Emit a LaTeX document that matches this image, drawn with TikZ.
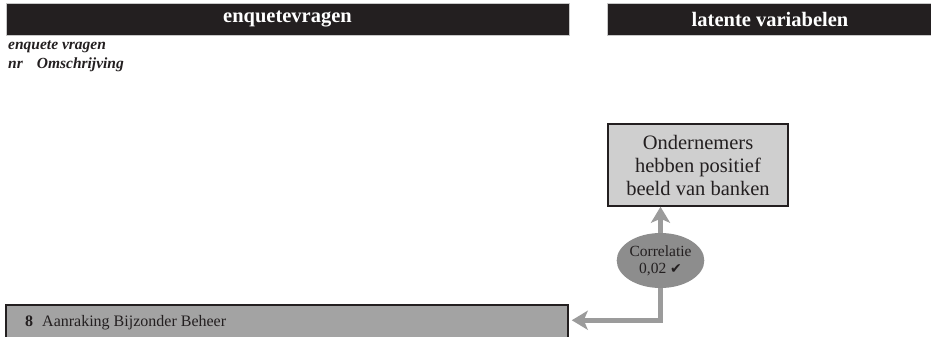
\documentclass[tikz,border=0pt]{standalone}
\usepackage{fontspec}
\setmainfont{Liberation Serif}
\newfontfamily\symfont{DejaVu Sans}
\usetikzlibrary{arrows.meta,shapes.geometric,calc}
\definecolor{hdr}{HTML}{231F20}
\definecolor{hdrline}{HTML}{C8C8C8}
\definecolor{arrowgray}{HTML}{9B9B9B}
\definecolor{latfill}{HTML}{CFCFCF}
\definecolor{botfill}{HTML}{A3A3A3}
\definecolor{ellfill}{HTML}{8D8D8D}
\tikzset{
  hdrbox/.style={fill=hdr, draw=hdrline, line width=0.8pt, text=white, font=\fontsize{20.5}{22}\selectfont\bfseries, inner sep=0pt},
  subtxt/.style={anchor=base west, inner sep=0pt, font=\fontsize{15.5}{17}\selectfont\bfseries\itshape, text=hdr},
  latbox/.style={fill=latfill, draw=hdr, line width=1.5pt, align=center, text=hdr, font=\fontsize{20.5}{23}\selectfont, inner sep=0pt},
  itembox/.style={fill=botfill, draw=hdr, line width=1.5pt, inner sep=0pt},
  itemtxt/.style={anchor=base west, inner sep=0pt, text=hdr, font=\fontsize{16}{18}\selectfont},
  corr/.style={ellipse, fill=ellfill, align=center, text=hdr, font=\fontsize{15.5}{17}\selectfont, inner sep=0pt},
  arr/.style={draw=arrowgray, line width=4.5pt, -{Stealth[length=16pt,width=19pt,inset=4pt]}},
}
\begin{document}
\begin{tikzpicture}[x=1pt,y=-1pt]
\useasboundingbox (0,0) rectangle (931,337);
\node[hdrbox, minimum width=563pt, minimum height=32pt] (h1) at (287.5,19) {enquetevragen};
\node[hdrbox, minimum width=326pt, minimum height=32pt] (h2) at (770,19) {latente variabelen};
\node[subtxt] (s1) at (8,50) {enquete vragen};
\node[subtxt] (s2) at (8,69) {nr\hspace{14pt}Omschrijving};
\node[latbox, minimum width=180pt, minimum height=82pt] (lat) at (698,165) {Ondernemers\\hebben positief\\beeld van banken};
\node[corr, minimum width=80pt, minimum height=55pt] (ell) at (660.5,260.5) {Correlatie\\0,02 {\symfont\fontsize{14}{16}\selectfont ✔}};
\node[itembox, minimum width=562pt, minimum height=44pt] (bot) at (287,327) {};
\node[itemtxt] (bottxt) at (25,326) {\textbf{8}\hspace{9pt}Aanraking Bijzonder Beheer};
\coordinate (into) at ($(bot.north east)+(3,16)$);
\draw[arr] (ell.north) -- (ell.north |- lat.south);
\draw[arr] (ell.south) |- (into);
\end{tikzpicture}
\end{document}
